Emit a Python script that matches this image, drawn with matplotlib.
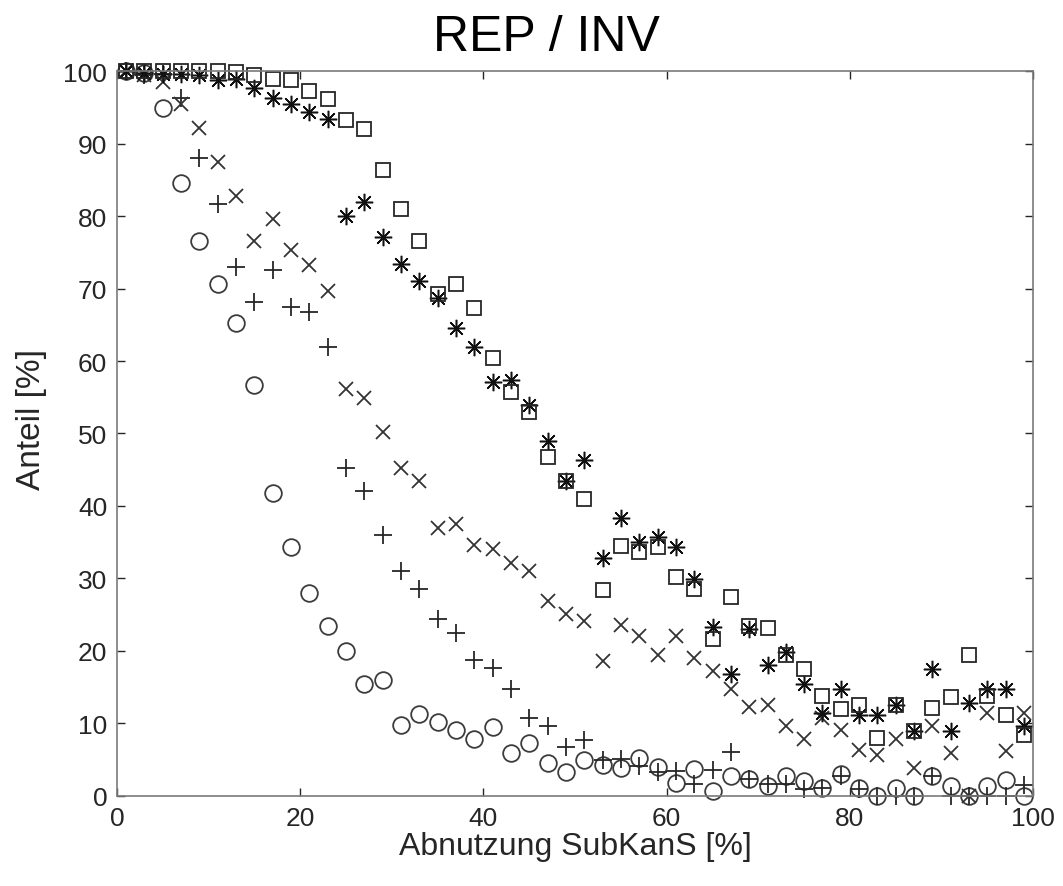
import numpy as np
import matplotlib
matplotlib.use('Agg')
import matplotlib.pyplot as plt

plt.rcParams['font.family'] = ['Liberation Sans', 'DejaVu Sans']

# Abnutzung in %, ungerade Werte 1..99
abnutzung = list(range(1, 100, 2))

kreis = [100, 99.7, 94.9, 84.5, 76.5, 70.6, 65.2, 56.7, 41.8, 34.3,
         28.0, 23.4, 20.0, 15.4, 16.0, 9.8, 11.3, 10.2, 9.1, 7.9,
         9.5, 5.9, 7.3, 4.5, 3.3, 4.9, 4.3, 3.9, 5.3, 4.0,
         1.8, 3.7, 0.7, 2.7, 2.3, 1.4, 2.7, 2.0, 1.1, 3.0,
         1.1, 0, 1.1, 0, 2.7, 1.4, 0, 1.4, 2.2, 0]

plus = [100, 99.5, 99.6, 96.3, 88.0, 81.7, 73.0, 68.1, 72.5, 67.4,
        66.8, 61.9, 45.3, 42.0, 36.0, 31.1, 28.5, 24.4, 22.5, 18.8,
        17.6, 14.8, 10.8, 9.7, 6.8, 7.7, 4.9, 5.1, 4.2, 3.3,
        3.5, 1.7, 3.6, 6.0, 2.4, 1.7, 1.7, 1.0, 1.1, 2.8,
        1.0, 0, 0, 0, 2.7, 0, 0, 0, 0, 1.5]

kreuz = [100, 99.5, 98.5, 95.4, 92.1, 87.5, 82.7, 76.5, 79.6, 75.3,
         73.2, 69.7, 56.2, 54.9, 50.2, 45.3, 43.5, 36.9, 37.5, 34.6,
         34.1, 32.1, 31.0, 26.9, 25.1, 24.1, 18.6, 23.6, 22.1, 19.4,
         22.1, 19.0, 17.2, 14.8, 12.3, 12.5, 9.6, 7.8, 10.8, 9.1,
         6.3, 5.7, 7.9, 3.8, 9.6, 5.9, 0, 11.4, 6.2, 11.5]

stern = [100, 99.7, 99.6, 99.6, 99.4, 98.8, 98.9, 97.7, 96.3, 95.4,
         94.3, 93.4, 80.0, 82.0, 77.1, 73.4, 71.0, 68.7, 64.6, 62.0,
         57.1, 57.4, 53.9, 49.0, 43.4, 46.3, 32.8, 38.4, 35.0, 35.7,
         34.3, 29.9, 23.3, 16.8, 23.1, 18.1, 19.9, 15.4, 11.5, 14.7,
         11.2, 11.2, 12.5, 8.9, 17.5, 8.9, 12.8, 14.8, 14.7, 9.7]

quadrat = [100, 100, 100, 100, 100, 100, 99.8, 99.4, 98.9, 98.7,
           97.2, 96.1, 93.3, 92.0, 86.4, 81.0, 76.6, 69.3, 70.6, 67.3,
           60.4, 55.7, 53.0, 46.7, 43.4, 40.9, 28.4, 34.5, 33.7, 34.3,
           30.2, 28.6, 21.7, 27.4, 23.4, 23.2, 19.4, 17.5, 13.8, 12.0,
           12.5, 8.0, 12.5, 8.9, 12.2, 13.6, 19.5, 13.8, 11.2, 8.4]

fig = plt.figure(figsize=(10.63, 8.87), dpi=100)
ax = fig.add_axes([0.110, 0.1015, 0.862, 0.8173])

c = '#262626'
ax.plot(abnutzung, kreis, 'o', ms=12, mfc='none', mec='#3c3c3c', mew=1.3, clip_on=False)
ax.plot(abnutzung, plus, '+', ms=12.5, mec=c, mew=1.3, clip_on=False)
ax.plot(abnutzung, kreuz, 'x', ms=9.5, mec='#333333', mew=1.3, clip_on=False)
ax.plot(abnutzung, stern, marker=(8, 2, 0), ls='none', ms=12.5, mec='#111111', mew=1.1, clip_on=False)
ax.plot(abnutzung, quadrat, 's', ms=10, mfc='none', mec=c, mew=1.3, clip_on=False)

ax.set_xlim(0, 100)
ax.set_ylim(0, 100)
ax.set_xticks(np.arange(0, 101, 20))
ax.set_yticks(np.arange(0, 101, 10))
ax.tick_params(direction='in', length=6, width=1, colors='#262626', labelsize=19,
               top=True, right=True, pad=7)
for s in ax.spines.values():
    s.set_color('#7a7a7a')
    s.set_linewidth(1.2)

fig.text(546 / 1063, 1 - 38 / 887, 'REP / INV', fontsize=36, ha='center', va='center')
ax.set_xlabel('Abnutzung SubKanS [%]', fontsize=23, color='#262626', labelpad=1)
ax.set_ylabel('Anteil [%]', fontsize=24, color='#262626')
ax.yaxis.set_label_coords(-0.076, 0.52)

fig.savefig('out.png', dpi=100)
